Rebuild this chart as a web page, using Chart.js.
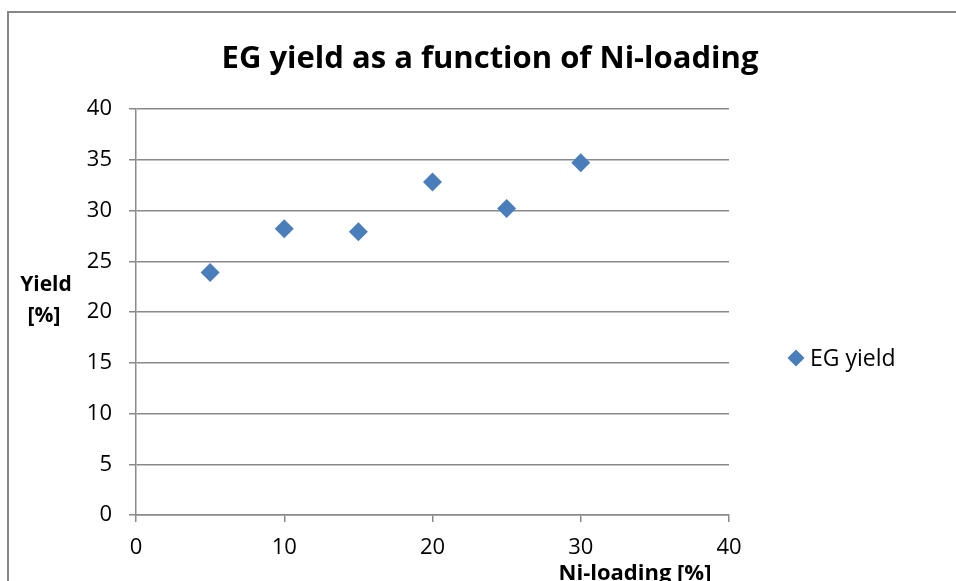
<!DOCTYPE html>
<html>
<head>
<meta charset="utf-8">
<script src="https://cdn.jsdelivr.net/npm/chart.js@4/dist/chart.umd.min.js"></script>
<style>
  body { margin: 0; background: #fff; }
  #wrap { width: 956px; height: 581px; }
</style>
</head>
<body>
<div id="wrap"><canvas id="yieldChart" width="956" height="581"></canvas></div>
<script>
// data
const niLoading = [5, 10, 15, 20, 25, 30];
const egYield = [23.9, 28.2, 27.9, 32.8, 30.2, 34.7];
const seriesName = 'EG yield';
const chartTitle = 'EG yield as a function of Ni-loading';
const xTitle = 'Ni-loading [%]';
const yTitle = ['Yield', '[%]'];

const FONT = "'Open Sans', sans-serif";
const gridColor = '#898989';
const markerColor = '#4a7ebb';

// frame, title, axis titles and legend drawn by hand (Excel-style layout)
const decorations = {
    id: 'decorations',
    beforeDraw(chart) {
        const ctx = chart.ctx;
        ctx.save();
        ctx.fillStyle = '#fff';
        ctx.fillRect(0, 0, chart.width, chart.height);
        ctx.strokeStyle = '#868686';
        ctx.lineWidth = 2;
        ctx.strokeRect(8, 12, 1200, 1200);
        ctx.restore();
    },
    afterDraw(chart) {
        const ctx = chart.ctx;
        ctx.save();
        ctx.fillStyle = '#000';
        ctx.textBaseline = 'alphabetic';

        ctx.font = 'bold 31px ' + FONT;
        ctx.textAlign = 'center';
        ctx.fillText(chartTitle, 490, 68);

        ctx.font = 'bold 21px ' + FONT;
        ctx.fillText(yTitle[0], 46, 291);
        ctx.fillText(yTitle[1], 44, 322);
        ctx.font = 'bold 22px ' + FONT;
        ctx.fillText(xTitle, 635, 580);

        // legend
        const ds = chart.data.datasets[0];
        ctx.fillStyle = ds.backgroundColor;
        Chart.helpers.drawPoint(ctx, {
            pointStyle: 'rectRot', radius: 8.5, rotation: 0, borderWidth: 0
        }, 796, 358);
        ctx.fillStyle = '#000';
        ctx.font = '23px ' + FONT;
        ctx.textAlign = 'left';
        ctx.fillText(ds.label, 810, 366);
        ctx.restore();
    }
};

new Chart(document.getElementById('yieldChart'), {
    type: 'scatter',
    data: {
        datasets: [{
            label: seriesName,
            data: niLoading.map((x, i) => ({ x: x, y: egYield[i] })),
            pointStyle: 'rectRot',
            pointRadius: 9.5,
            pointHoverRadius: 9.5,
            backgroundColor: markerColor,
            borderColor: markerColor,
            borderWidth: 0
        }]
    },
    options: {
        responsive: false,
        animation: false,
        events: [],
        layout: {
            padding: { left: 0, right: 956 - 729, top: 109, bottom: 0 }
        },
        plugins: {
            legend: { display: false },
            title: { display: false },
            tooltip: { enabled: false }
        },
        scales: {
            x: {
                type: 'linear',
                min: 0,
                max: 40,
                ticks: {
                    stepSize: 10,
                    color: '#000',
                    font: { family: FONT, size: 22 },
                    padding: 13,
                    maxRotation: 0
                },
                grid: {
                    drawOnChartArea: false,
                    drawTicks: true,
                    tickLength: 7,
                    color: gridColor,
                    lineWidth: 1.5
                },
                border: { color: gridColor, width: 1.5 },
                afterFit(scale) { scale.height = 581 - 515; }
            },
            y: {
                min: 0,
                max: 40,
                ticks: {
                    stepSize: 5,
                    color: '#000',
                    font: { family: FONT, size: 22 },
                    padding: 17
                },
                grid: {
                    color: gridColor,
                    lineWidth: 1.5,
                    tickLength: 7
                },
                border: { color: gridColor, width: 1.5 },
                afterFit(scale) { scale.width = 136; }
            }
        }
    },
    plugins: [decorations]
});
</script>
</body>
</html>
